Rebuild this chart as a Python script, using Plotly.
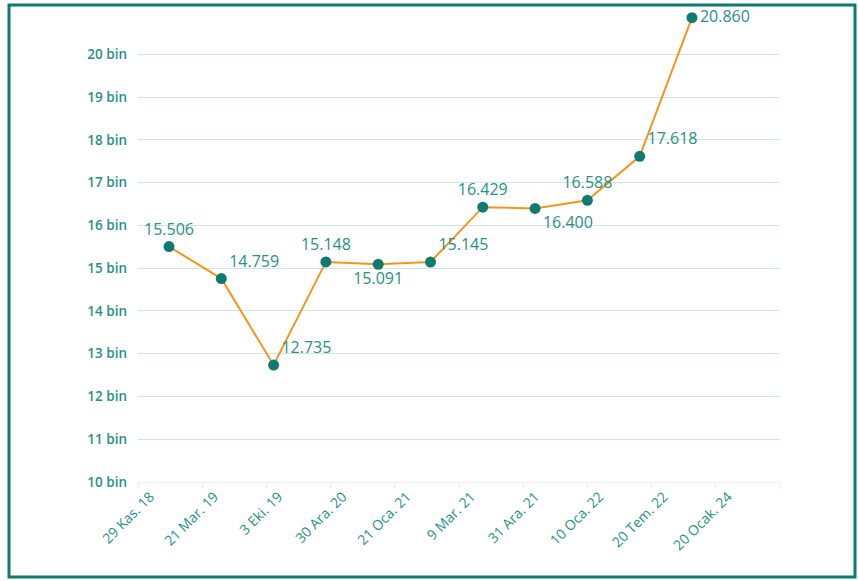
import plotly.graph_objects as go

# Data
values = [15.506, 14.759, 12.735, 15.148, 15.091, 15.145, 16.429, 16.400, 16.588, 17.618, 20.860]
value_labels = ["15.506", "14.759", "12.735", "15.148", "15.091", "15.145",
                "16.429", "16.400", "16.588", "17.618", "20.860"]
date_labels = ["29 Kas. 18", "21 Mar. 19", "3 Eki. 19", "30 Ara. 20", "21 Oca. 21",
               "9 Mar. 21", "31 Ara. 21", "10 Oca. 22", "20 Tem. 22", "20 Ocak. 24"]
y_ticks = [10, 11, 12, 13, 14, 15, 16, 17, 18, 19, 20]
y_ticktext = [f"{v} bin" for v in y_ticks]

text_pos = ["top center", "top right", "top right", "top center", "bottom center",
            "top right", "top center", "bottom right", "top center", "top right", "middle right"]

TEAL = "#0f7b70"
TEXT_TEAL = "#2a8f86"
ORANGE = "#f7941d"
FONT = "Open Sans"

W, H = 858, 581
L, R, T, B = 138, 78, 16, 99
pw = W - L - R
ph = H - T - B

fig = go.Figure()
fig.add_trace(go.Scatter(
    x=list(range(len(values))), y=values,
    mode="lines+markers+text",
    line=dict(color=ORANGE, width=2),
    marker=dict(color=TEAL, size=11),
    text=value_labels, textposition=text_pos,
    textfont=dict(family=FONT, size=16, color=TEXT_TEAL),
    cliponaxis=False, hoverinfo="skip", showlegend=False,
))
# invisible trace for the category axis
fig.add_trace(go.Scatter(
    x=date_labels, y=[None] * len(date_labels), xaxis="x2",
    mode="markers", showlegend=False, hoverinfo="skip",
))

# pixel mapping for point axis: index 0 -> x=169, index 10 -> x=692
ppu = (692 - 169) / 10
x_lo = 0 - (169 - L) / ppu
x_hi = 10 + (L + pw - 692) / ppu

fig.update_layout(
    width=W, height=H,
    margin=dict(l=L, r=R, t=T, b=B),
    paper_bgcolor="white", plot_bgcolor="white",
    font=dict(family=FONT, color=TEXT_TEAL),
    xaxis=dict(range=[x_lo, x_hi], visible=False, showgrid=False, zeroline=False),
    xaxis2=dict(
        overlaying="x", anchor="y", side="bottom", type="category",
        domain=[0, (763 - L) / pw],
        range=[-0.5, len(date_labels) - 0.5],
        tickangle=-45, tickson="boundaries",
        ticks="outside", ticklen=6, tickcolor="#e6eeed",
        ticklabelshift=-20,
        showline=True, linecolor="#edf3f2", linewidth=1,
        showgrid=False, zeroline=False,
        tickfont=dict(family=FONT, size=14, color=TEXT_TEAL),
    ),
    yaxis=dict(
        range=[10, 20.9], tickvals=y_ticks, ticktext=y_ticktext,
        showgrid=True, gridcolor="#cfe6e2", gridwidth=1,
        zeroline=False, showline=False, ticks="",
        ticklabelstandoff=10,
        tickfont=dict(family=FONT, size=13.5, color=TEXT_TEAL, weight=600),
    ),
)

# frame around the whole figure
def px_x(x):
    return (x - L) / pw

def px_y(y):
    return (H - B - y) / ph

fig.add_shape(type="rect", xref="paper", yref="paper",
              x0=px_x(9), x1=px_x(855), y0=px_y(577), y1=px_y(5),
              line=dict(color=TEAL, width=3), fillcolor="rgba(0,0,0,0)", layer="above")

fig.write_html("out.html", config={"displayModeBar": False},
               post_script="document.body.style.margin='0px';document.body.style.overflow='hidden';")
